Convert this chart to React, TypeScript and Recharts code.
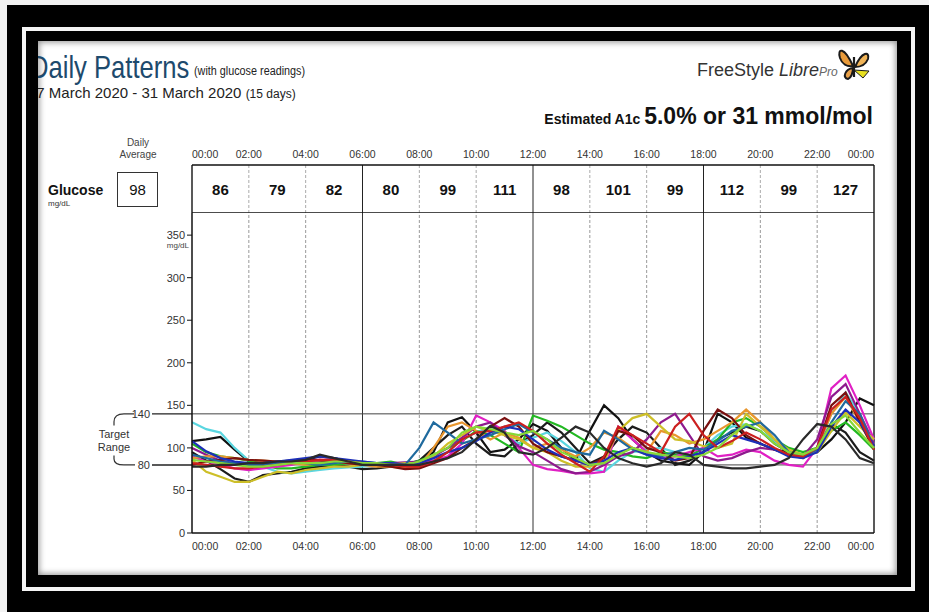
import React from "react";
import {
  LineChart,
  Line,
  XAxis,
  YAxis,
  ReferenceLine,
  ReferenceArea,
  ScatterChart,
  Scatter,
} from "recharts";

// half-hour sample times, 00:00 .. 24:00
const hours = [
  0, 0.5, 1, 1.5, 2, 2.5, 3, 3.5, 4, 4.5, 5, 5.5, 6, 6.5, 7, 7.5, 8, 8.5, 9,
  9.5, 10, 10.5, 11, 11.5, 12, 12.5, 13, 13.5, 14, 14.5, 15, 15.5, 16, 16.5,
  17, 17.5, 18, 18.5, 19, 19.5, 20, 20.5, 21, 21.5, 22, 22.5, 23, 23.5, 24,
];

const hourTicks = [0, 2, 4, 6, 8, 10, 12, 14, 16, 18, 20, 22, 24];
const glucoseTicks = [0, 50, 100, 150, 200, 250, 300, 350];
const slotMid = [1, 3, 5, 7, 9, 11, 13, 15, 17, 19, 21, 23];
const slotAverages = [86, 79, 82, 80, 99, 111, 98, 101, 99, 112, 99, 127];
const dailyAverage = 98;
const targetLow = 80;
const targetHigh = 140;

// one array per day (mg/dL)
const day1 = [108, 110, 113, 98, 84, 82, 84, 85, 86, 90, 88, 84, 82, 80, 80, 79, 82, 95, 130, 136, 118, 95, 98, 110, 128, 120, 100, 85, 120, 150, 135, 110, 95, 85, 82, 80, 95, 140, 130, 112, 105, 98, 95, 92, 95, 110, 130, 158, 150];
const day2 = [95, 85, 75, 64, 60, 68, 70, 72, 76, 78, 80, 78, 75, 76, 78, 80, 85, 100, 115, 125, 105, 92, 90, 105, 115, 130, 118, 100, 82, 90, 110, 125, 118, 100, 80, 85, 95, 110, 118, 125, 120, 105, 95, 88, 100, 128, 118, 95, 85];
const day3 = [130, 122, 118, 100, 85, 78, 72, 70, 72, 74, 76, 77, 78, 80, 80, 79, 80, 85, 95, 110, 118, 125, 115, 105, 112, 118, 108, 95, 76, 72, 85, 95, 98, 100, 95, 90, 100, 115, 125, 128, 120, 108, 95, 90, 100, 140, 165, 140, 105];
const day4 = [105, 95, 90, 88, 85, 80, 76, 76, 78, 80, 80, 82, 80, 82, 84, 80, 85, 92, 100, 108, 120, 115, 105, 95, 138, 132, 125, 115, 105, 98, 95, 90, 88, 95, 92, 90, 100, 110, 130, 135, 125, 110, 100, 95, 100, 120, 130, 115, 98];
const day5 = [90, 84, 80, 76, 74, 76, 78, 80, 84, 86, 86, 84, 82, 80, 80, 80, 82, 85, 90, 105, 138, 130, 120, 100, 80, 75, 73, 70, 70, 72, 125, 110, 95, 88, 90, 95, 100, 90, 92, 98, 95, 85, 80, 78, 100, 170, 185, 150, 110];
const day6 = [100, 92, 85, 82, 80, 80, 82, 84, 86, 86, 84, 82, 80, 80, 82, 83, 84, 90, 100, 112, 125, 130, 115, 102, 95, 85, 75, 70, 72, 80, 90, 95, 110, 130, 140, 115, 90, 85, 88, 95, 100, 98, 92, 90, 110, 160, 175, 140, 105];
const day7 = [88, 90, 90, 88, 86, 85, 84, 82, 80, 82, 84, 82, 80, 78, 78, 76, 78, 100, 125, 130, 120, 110, 118, 112, 100, 105, 98, 90, 100, 118, 112, 100, 95, 120, 115, 105, 110, 120, 130, 145, 130, 110, 95, 92, 100, 140, 160, 130, 100];
const day8 = [86, 72, 66, 60, 60, 66, 72, 70, 74, 76, 78, 78, 80, 80, 80, 82, 82, 90, 105, 115, 125, 120, 115, 110, 100, 95, 85, 78, 78, 84, 120, 135, 140, 125, 110, 108, 102, 100, 105, 140, 125, 110, 98, 92, 95, 120, 142, 125, 110];
const day9 = [80, 84, 86, 88, 86, 85, 84, 84, 86, 85, 84, 82, 80, 80, 78, 75, 76, 82, 88, 100, 110, 125, 135, 125, 105, 95, 90, 85, 80, 88, 120, 115, 100, 95, 85, 88, 120, 145, 135, 115, 105, 98, 92, 88, 100, 150, 165, 130, 98];
const day10 = [92, 88, 84, 82, 80, 80, 82, 84, 82, 80, 82, 84, 84, 82, 82, 80, 100, 130, 118, 105, 110, 115, 122, 128, 118, 110, 100, 95, 92, 120, 110, 98, 92, 90, 95, 100, 98, 108, 120, 125, 130, 115, 95, 90, 98, 130, 155, 140, 100];
const day11 = [108, 96, 88, 84, 82, 82, 84, 86, 88, 90, 88, 86, 84, 82, 82, 80, 82, 88, 95, 100, 108, 118, 125, 122, 110, 98, 90, 85, 80, 85, 95, 100, 92, 88, 86, 90, 95, 105, 115, 110, 105, 98, 90, 88, 95, 125, 145, 130, 102];
const day12 = [82, 80, 78, 76, 76, 78, 80, 82, 84, 86, 86, 84, 82, 80, 80, 78, 78, 84, 95, 110, 118, 120, 125, 130, 120, 105, 92, 82, 72, 90, 125, 115, 105, 95, 125, 140, 115, 100, 108, 118, 110, 100, 92, 90, 100, 145, 160, 135, 98];
const day13 = [86, 84, 82, 80, 78, 78, 80, 82, 82, 82, 84, 84, 82, 82, 80, 80, 84, 92, 100, 118, 125, 122, 118, 115, 120, 110, 95, 88, 80, 82, 92, 100, 95, 92, 90, 88, 92, 100, 115, 128, 120, 105, 95, 92, 100, 128, 138, 118, 100];
const day14 = [78, 78, 80, 80, 82, 82, 84, 84, 86, 92, 88, 84, 80, 80, 80, 80, 80, 84, 88, 95, 110, 126, 118, 95, 92, 100, 112, 125, 118, 100, 88, 82, 78, 82, 95, 92, 80, 78, 76, 76, 78, 80, 88, 110, 128, 125, 110, 88, 82];

const days = [day1, day2, day3, day4, day5, day6, day7, day8, day9, day10, day11, day12, day13, day14];
const dayColors = [
  "#111111", "#1c1c1c", "#5ad6e0", "#22b822", "#e020c4", "#8e1a8e", "#e8962e",
  "#cdbf28", "#7a1010", "#1f6a9e", "#1d2fb8", "#cc2020", "#86d838", "#2a2a2a",
];

const rows = hours.map((h, i) => {
  const r: Record<string, number> = { h };
  days.forEach((d, j) => (r[`d${j}`] = d[i]));
  return r;
});
const slotRows = slotMid.map((x, i) => ({ x, y: 0.5, v: slotAverages[i] }));

const FONT = "'Liberation Sans Narrow', 'Arial Narrow', 'Liberation Sans', Arial, sans-serif";
const Y_MAX = 376;

const fmtHour = (v: number) => `${String(v % 24).padStart(2, "0")}:00`;

const HourTick = (props: any) => {
  const { x, y, payload, top } = props;
  const v = payload.value;
  const anchor = v === 0 ? "start" : v === 24 ? "end" : "middle";
  return (
    <text x={x} y={y} dy={top ? 1 : 9} textAnchor={anchor} fontSize={10.5} fill="#333" fontFamily={FONT}>
      {fmtHour(v)}
    </text>
  );
};

const GlucoseTick = (props: any) => {
  const { x, y, payload } = props;
  return (
    <g>
      <text x={x} y={y} dy={4} textAnchor="end" fontSize={11} fill="#333" fontFamily={FONT}>
        {payload.value}
      </text>
      {payload.value === 350 && (
        <text x={x + 4} y={y} dy={13} textAnchor="end" fontSize={8} fill="#444" fontFamily={FONT}>
          mg/dL
        </text>
      )}
    </g>
  );
};

const TargetLabel = (props: any) => {
  const { x, y, height } = props.viewBox;
  const top = y;
  const bot = y + height;
  const mid = (top + bot) / 2;
  return (
    <g fontFamily={FONT} fill="#333">
      <line x1={x - 40} x2={x} y1={top} y2={top} stroke="#222" strokeWidth={1.2} />
      <line x1={x - 40} x2={x} y1={bot} y2={bot} stroke="#222" strokeWidth={1.5} />
      <text x={x - 42} y={top} dy={4} textAnchor="end" fontSize={11}>{targetHigh}</text>
      <text x={x - 42} y={bot} dy={4} textAnchor="end" fontSize={11}>{targetLow}</text>
      <path
        d={`M ${x - 58} ${top} L ${x - 68} ${top} Q ${x - 78} ${top} ${x - 78} ${top + 8} L ${x - 78} ${mid - 14}`}
        stroke="#333" strokeWidth={1.2} fill="none"
      />
      <path
        d={`M ${x - 78} ${mid + 16} L ${x - 78} ${bot - 6} Q ${x - 78} ${bot} ${x - 68} ${bot} L ${x - 57} ${bot}`}
        stroke="#333" strokeWidth={1.2} fill="none"
      />
      <text x={x - 78} y={mid} dy={-1} textAnchor="middle" fontSize={11}>Target</text>
      <text x={x - 78} y={mid} dy={12} textAnchor="middle" fontSize={11}>Range</text>
    </g>
  );
};

const Butterfly = () => (
  <svg width={36} height={38} viewBox="0 0 36 38" style={{ position: "absolute", left: 836, top: 45 }}>
    <path d="M17 21 C 8 1, 1 3, 4 13 C 6 19, 11 22, 17 21 Z" fill="#e89a3a" stroke="#1a1a1a" strokeWidth={2} />
    <path d="M17 23 C 9 24, 6 33, 12 34 C 15 33, 17 28, 17 23 Z" fill="#e8a048" stroke="#1a1a1a" strokeWidth={2} />
    <path d="M19 22 C 26 6, 34 6, 32 14 C 30 19, 25 22, 19 22 Z" fill="#f0b458" stroke="#1a1a1a" strokeWidth={2} />
    <path d="M18 25 L 33 26 L 27 33 Z" fill="#e8e020" stroke="#1a1a1a" strokeWidth={1} />
    <line x1={18} y1={12} x2={18} y2={32} stroke="#1a1a1a" strokeWidth={2.2} />
  </svg>
);

const abs = (left: number, top: number, extra: React.CSSProperties = {}): React.CSSProperties => ({
  position: "absolute",
  left,
  top,
  lineHeight: 1,
  whiteSpace: "nowrap",
  fontFamily: FONT,
  ...extra,
});

const narrow = (k: number): React.CSSProperties => ({
  display: "inline-block",
  transform: `scaleX(${k})`,
  transformOrigin: "left center",
});

export default function App() {
  return (
    <div style={{ position: "fixed", left: 0, top: 0, width: 929, height: 612, background: "#000", overflow: "hidden" }}>
      <div style={{ position: "absolute", left: 0, top: 0, width: 929, height: 5, background: "#f2f2f2" }} />
      <div style={{ position: "absolute", left: 0, top: 0, width: 7, height: 612, background: "#f2f2f2" }} />
      <div style={{ position: "absolute", left: 22, top: 27, width: 893, height: 564, border: "4px solid #f4f4f4", boxSizing: "border-box" }} />
      <div
        style={{
          position: "absolute", left: 38, top: 41, width: 859, height: 534, background: "#fff",
          boxShadow: "inset 0 0 6px 1px rgba(0,0,0,0.45)", overflow: "hidden",
        }}
      >
        <div style={{ position: "absolute", left: -38, top: -41, width: 929, height: 612 }}>
          {/* page header */}
          <div style={abs(30, 51, { color: "#1d4a6d", fontSize: 32 })}>
            <span style={narrow(0.8)}>Daily Patterns</span>
          </div>
          <div style={abs(194, 65, { color: "#222", fontSize: 12 })}>
            <span style={narrow(0.9)}>(with glucose readings)</span>
          </div>
          <div style={abs(28, 85, { color: "#222" })}>
            <span style={{ fontSize: 15 }}>17 March 2020 - 31 March 2020 </span>
            <span style={{ fontSize: 12 }}>(15 days)</span>
          </div>
          <div style={abs(697, 61, { color: "#333" })}>
            <span style={{ fontSize: 18 }}>FreeStyle </span>
            <span style={{ fontSize: 18, fontStyle: "italic" }}>Libre</span>
            <span style={{ fontSize: 12, fontStyle: "italic", color: "#666" }}>Pro</span>
          </div>
          <Butterfly />
          <div style={{ ...abs(0, 105, { color: "#111", fontWeight: "bold" }), left: "auto", right: 56 }}>
            <span style={{ fontSize: 14 }}>Estimated A1c </span>
            <span style={{ fontSize: 23 }}>5.0% or 31 mmol/mol</span>
          </div>

          {/* left labels of the table row */}
          <div style={abs(118, 137, { fontSize: 10, color: "#444", textAlign: "center", width: 40, lineHeight: "12px" })}>
            Daily
            <br />
            Average
          </div>
          <div style={abs(48, 183, { fontSize: 14, fontWeight: "bold", color: "#111" })}>Glucose</div>
          <div style={abs(48, 200, { fontSize: 8, color: "#333" })}>mg/dL</div>
          <div
            style={abs(117, 172, {
              width: 41, height: 35, border: "1px solid #333", boxSizing: "border-box",
              display: "flex", alignItems: "center", justifyContent: "center", fontSize: 15, color: "#111",
            })}
          >
            {dailyAverage}
          </div>

          {/* two-hour averages */}
          <div style={{ position: "absolute", left: 0, top: 135 }}>
            <ScatterChart width={929} height={78} margin={{ top: 0, right: 55, bottom: 0, left: 192 }}>
              <XAxis
                type="number" dataKey="x" orientation="top" domain={[0, 24]} ticks={hourTicks}
                height={30} tickLine={false} axisLine={{ stroke: "#111", strokeWidth: 1.5 }}
                tick={<HourTick top />} interval={0}
              />
              <YAxis type="number" dataKey="y" domain={[0, 1]} hide />
              {hourTicks.map((t) => (
                <ReferenceLine
                  key={t} x={t}
                  stroke={t % 6 === 0 ? "#222" : "#aaa"}
                  strokeWidth={t % 24 === 0 ? 1.5 : 1}
                  strokeDasharray={t % 6 === 0 ? undefined : "3 2"}
                />
              ))}
              <ReferenceLine y={0} stroke="#111" strokeWidth={1.5} />
              <Scatter
                data={slotRows} isAnimationActive={false}
                shape={(p: any) => (
                  <text x={p.cx} y={p.cy} dy={6} textAnchor="middle" fontSize={15} fontWeight="bold" fill="#111" fontFamily={FONT}>
                    {p.payload.v}
                  </text>
                )}
              />
            </ScatterChart>
          </div>

          {/* daily pattern lines */}
          <div style={{ position: "absolute", left: 0, top: 200 }}>
            <LineChart width={929} height={370} data={rows} margin={{ top: 13, right: 55, bottom: 7, left: 152 }}>
              <XAxis
                type="number" dataKey="h" domain={[0, 24]} ticks={hourTicks} interval={0}
                height={30} tickLine={false} axisLine={{ stroke: "#111", strokeWidth: 1.5 }}
                tick={<HourTick />}
              />
              <YAxis
                type="number" domain={[0, Y_MAX]} ticks={glucoseTicks} interval={0} width={40}
                axisLine={{ stroke: "#111", strokeWidth: 1.5 }} tickLine={{ stroke: "#111" }} tickSize={5}
                tick={<GlucoseTick />}
              />
              {hourTicks.slice(1).map((t) => (
                <ReferenceLine
                  key={t} x={t}
                  stroke={t === 24 ? "#222" : t % 6 === 0 ? "#333" : "#999"}
                  strokeWidth={t === 24 ? 1.5 : 1}
                  strokeDasharray={t % 6 === 0 ? undefined : "3 2"}
                />
              ))}
              <ReferenceArea y1={targetLow} y2={targetHigh} fill="none" stroke="none" label={<TargetLabel />} />
              <ReferenceLine y={targetHigh} stroke="#444" strokeWidth={1} />
              <ReferenceLine y={targetLow} stroke="#444" strokeWidth={1} />
              {days.map((_, j) => (
                <Line
                  key={j} dataKey={`d${j}`} type="linear" dot={false} stroke={dayColors[j]}
                  strokeWidth={2.2} isAnimationActive={false}
                />
              ))}
            </LineChart>
          </div>
        </div>
      </div>
    </div>
  );
}
